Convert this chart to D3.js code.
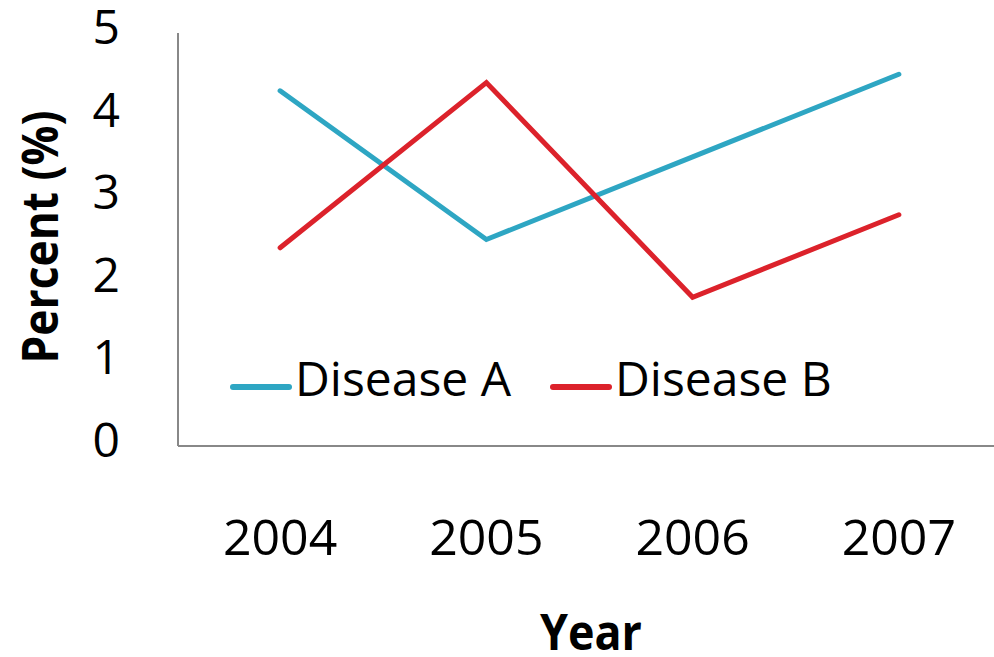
<!DOCTYPE html>
<html>
<head>
<meta charset="utf-8">
<script src="https://cdn.jsdelivr.net/npm/d3@7"></script>
<style>
  html, body { margin: 0; padding: 0; background: #fff; }
  svg { display: block; font-family: "Open Sans", sans-serif; }
</style>
</head>
<body>
<svg id="chart" width="994" height="657"></svg>
<script>
// Years on the x axis
const years = ["2004", "2005", "2006", "2007"];
// Percent values per year
const diseaseA = [4.3, 2.5, 3.5, 4.5];
const diseaseB = [2.4, 4.4, 1.8, 2.8];
// Y tick values
const yTicks = [0, 1, 2, 3, 4, 5];

const seriesNames = ["Disease A", "Disease B"];
const seriesColors = ["#2ea6c3", "#dc222b"];
const series = [diseaseA, diseaseB].map((vals, i) => ({
  name: seriesNames[i],
  color: seriesColors[i],
  values: vals.map((v, j) => ({ year: years[j], value: v }))
}));

const svg = d3.select("#chart");

const x = d3.scaleBand().domain(years).range([177, 1002]).padding(0);
const y = d3.scaleLinear().domain([0, 5]).range([446, 33]);

// Axis lines
svg.append("line")
  .attr("x1", 178).attr("x2", 178)
  .attr("y1", y(5)).attr("y2", y(0))
  .attr("stroke", "#888").attr("stroke-width", 2);
svg.append("line")
  .attr("x1", 178).attr("x2", 1002)
  .attr("y1", y(0)).attr("y2", y(0))
  .attr("stroke", "#888").attr("stroke-width", 2);

// Y tick labels
svg.append("g").selectAll("text")
  .data(yTicks).join("text")
  .attr("x", 120)
  .attr("y", d => y(d) + 11)
  .attr("text-anchor", "end")
  .attr("font-size", 48)
  .attr("fill", "#000")
  .text(d => d);

// X tick labels
svg.append("g").selectAll("text")
  .data(years).join("text")
  .attr("x", d => x(d) + x.bandwidth() / 2)
  .attr("y", 555)
  .attr("text-anchor", "middle")
  .attr("font-size", 50)
  .attr("fill", "#000")
  .text(d => d);

// Axis titles
svg.append("text")
  .attr("transform", "translate(58,237) rotate(-90)")
  .attr("text-anchor", "middle")
  .attr("font-size", 50)
  .attr("font-weight", "bold")
  .attr("textLength", 253)
  .attr("lengthAdjust", "spacingAndGlyphs")
  .text("Percent (%)");

svg.append("text")
  .attr("x", 591)
  .attr("y", 650)
  .attr("text-anchor", "middle")
  .attr("font-size", 50)
  .attr("font-weight", "bold")
  .attr("textLength", 102)
  .attr("lengthAdjust", "spacingAndGlyphs")
  .text("Year");

// Series lines
const line = d3.line()
  .x(d => x(d.year) + x.bandwidth() / 2)
  .y(d => y(d.value));

svg.append("g").selectAll("path")
  .data(series).join("path")
  .attr("d", d => line(d.values))
  .attr("fill", "none")
  .attr("stroke", d => d.color)
  .attr("stroke-width", 5)
  .attr("stroke-linecap", "round")
  .attr("stroke-linejoin", "miter");

// Legend
const legendX = [233, 553];
const legend = svg.append("g").selectAll("g")
  .data(series).join("g")
  .attr("transform", (d, i) => `translate(${legendX[i]},387)`);
legend.append("line")
  .attr("x1", 0).attr("x2", 56)
  .attr("y1", 0).attr("y2", 0)
  .attr("stroke", d => d.color)
  .attr("stroke-width", 6)
  .attr("stroke-linecap", "round");
legend.append("text")
  .attr("x", 62)
  .attr("y", 9)
  .attr("font-size", 48)
  .attr("fill", "#000")
  .text(d => d.name);
</script>
</body>
</html>
